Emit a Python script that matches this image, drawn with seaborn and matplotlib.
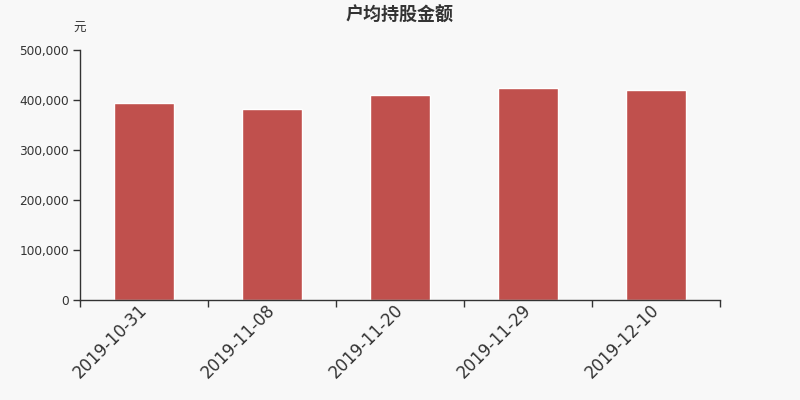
import matplotlib
matplotlib.use("Agg")
import matplotlib.pyplot as plt
import seaborn as sns
import pandas as pd
from matplotlib.ticker import FuncFormatter, FixedLocator

dates = ["2019-10-31", "2019-11-08", "2019-11-20", "2019-11-29", "2019-12-10"]
amounts = [393400, 381300, 409300, 423300, 420000]

sns.set_style("white")
plt.rcParams["font.family"] = ["Noto Sans CJK SC", "DejaVu Sans"]

df = pd.DataFrame({"date": dates, "amount": amounts})

fig = plt.figure(figsize=(8, 4), dpi=100, facecolor="#f8f8f8")
ax = fig.add_axes([0.1, 0.25, 0.8, 0.625])
ax.set_facecolor("#f8f8f8")

sns.barplot(data=df, x="date", y="amount", color="#c0504d", saturation=1,
            width=0.47, ax=ax)

ax.set_xlim(-0.5, len(dates) - 0.5)
ax.set_ylim(0, 500000)
ax.yaxis.set_major_locator(FixedLocator([0, 100000, 200000, 300000, 400000, 500000]))
ax.yaxis.set_major_formatter(FuncFormatter(lambda v, p: f"{int(v):,}"))

# ticks at category boundaries, labels at category centres
ax.set_xticks([i - 0.5 for i in range(len(dates) + 1)])
ax.set_xticklabels([])
ax.set_xticks(range(len(dates)), minor=True)
ax.set_xticklabels(dates, minor=True, rotation=45, ha="right", va="center",
                   rotation_mode="anchor", fontsize=12, color="#333333",
                   family="DejaVu Sans")
ax.tick_params(axis="x", which="minor", bottom=True, length=0, pad=5)
ax.tick_params(axis="x", which="major", bottom=True, length=5, width=1,
               color="#333333", direction="out")
ax.tick_params(axis="y", left=True, length=5, width=1, color="#333333",
               direction="out", labelsize=8.7, labelcolor="#333333", pad=3)
for lab in ax.get_yticklabels():
    lab.set_family("DejaVu Sans")

for side in ["top", "right"]:
    ax.spines[side].set_visible(False)
for side in ["left", "bottom"]:
    ax.spines[side].set_color("#333333")
    ax.spines[side].set_linewidth(1)

ax.set_xlabel("")
ax.set_ylabel("")
ax.grid(False)

fig.text(0.099, 0.928, "元", ha="center", va="center", fontsize=9, color="#333333")
fig.text(0.5, 0.962, "户均持股金额", ha="center", va="center", fontsize=13,
         fontweight="bold", color="#333333")

fig.savefig("out.png", dpi=100, facecolor=fig.get_facecolor())
